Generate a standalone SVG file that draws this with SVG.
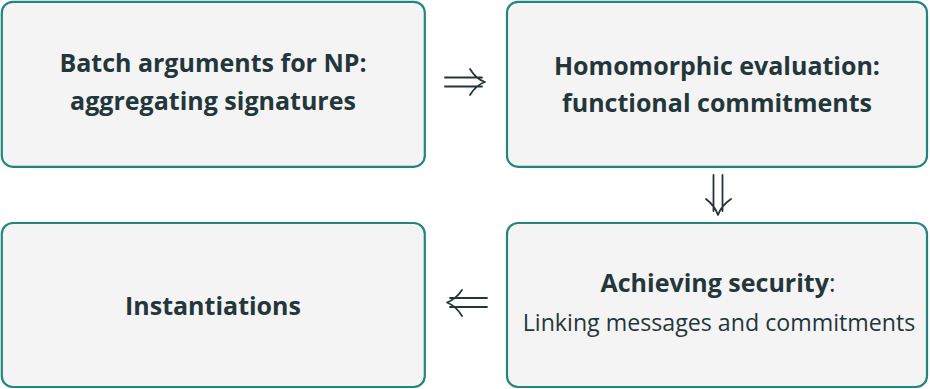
<svg xmlns="http://www.w3.org/2000/svg" width="930" height="389" viewBox="0 0 930 389">
<defs>
<style>
.box{fill:#f4f4f4;stroke:#23857f;stroke-width:2.2}
.t{font-family:"Open Sans","Liberation Sans",sans-serif;fill:#23373b;text-anchor:middle}
.b{font-weight:700;font-size:25px}
.n{font-weight:400;font-size:23.2px}
.arr{fill:none;stroke:#23373b;stroke-width:1.8;stroke-linecap:round;stroke-linejoin:round}
</style>
</defs>
<rect width="930" height="389" fill="#ffffff"/>
<g id="node-batch">
<rect class="box" x="1.8" y="1.8" width="423" height="165" rx="11"/>
<text class="t b" x="213" y="72">Batch arguments for NP:</text>
<text class="t b" x="213" y="110">aggregating signatures</text>
</g>
<g id="node-homomorphic">
<rect class="box" x="507" y="1.8" width="420" height="165" rx="11"/>
<text class="t b" x="717" y="75">Homomorphic evaluation:</text>
<text class="t b" x="717" y="112">functional commitments</text>
</g>
<g id="node-instantiations">
<rect class="box" x="1.8" y="223" width="423" height="164" rx="11"/>
<text class="t b" x="213" y="315">Instantiations</text>
</g>
<g id="node-security">
<rect class="box" x="507" y="223" width="420" height="164" rx="11"/>
<text class="t b" x="718" y="292">Achieving security<tspan style="font-weight:400">:</tspan></text>
<text class="t n" x="719" y="331">Linking messages and commitments</text>
</g>
<g id="connectors">
<path class="arr" d="M445 77.5H482 M445 86.5H482 M470 69 Q476 79 485 82 Q476 85 470 95"/>
<path class="arr" d="M713.5 175V211 M722.5 175V211 M706 199 Q715 206 718 215 Q721 206 731 199"/>
<path class="arr" d="M450 298H487 M450 307H487 M462 290 Q456 299 447 302.5 Q456 306 462 316"/>
</g>
</svg>
